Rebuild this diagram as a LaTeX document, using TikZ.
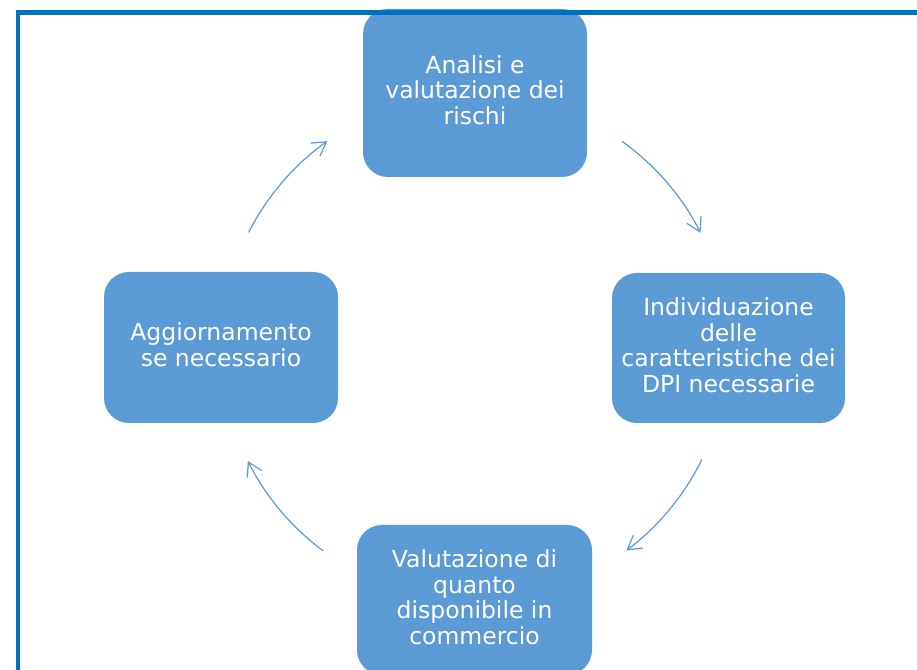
\documentclass[tikz,border=0pt]{standalone}
\usepackage{fontspec}
\setmainfont{DejaVu Sans}
\usetikzlibrary{arrows.meta,calc}
\definecolor{boxblue}{HTML}{5B9BD5}
\definecolor{frameblue}{HTML}{0070C0}
\tikzset{
  stepbox/.style={fill=boxblue, draw=none, rounded corners=25pt, inner sep=0pt,
    text=white, align=center, text depth=6pt, font=\fontsize{23.5}{25.7}\selectfont},
  cyclearrow/.style={draw=boxblue, line width=1.2pt,
    -{Straight Barb[length=13.5pt,width=16pt,line width=1.2pt]}}
}
\begin{document}
\begin{tikzpicture}[x=1pt,y=1pt]
\useasboundingbox (0,0) rectangle (917,669);
\clip (0,0) rectangle (917,669);
\fill[white] (0,0) rectangle (917,669);
% boxes
\node[stepbox, minimum width=224pt, minimum height=168pt] (top) at (475,576)
  {Analisi e\\valutazione dei\\rischi};
\node[stepbox, minimum width=233pt, minimum height=150pt] (right) at (728.5,321)
  {Individuazione\\delle\\caratteristiche dei\\DPI necessarie};
\node[stepbox, minimum width=235pt, minimum height=150pt] (bottom) at (474.5,69)
  {Valutazione di\\quanto\\disponibile in\\commercio};
\node[stepbox, minimum width=234pt, minimum height=151pt] (left) at (221,321.5)
  {Aggiornamento\\se necessario};
% frame
\coordinate (fbl) at (18,-10);
\coordinate (ftl) at (18,656.5);
\coordinate (ftr) at (930,656.5);
\draw[frameblue, line width=4.5pt] (fbl) -- (ftl) -- (ftr);
% cycle arrows
\coordinate (ctr) at (474.5,321.5);
\coordinate (s1) at ($(ctr)+(54.4:253.5)$);
\coordinate (s2) at ($(ctr)+(-26.2:253.5)$);
\coordinate (s3) at ($(ctr)+(-126.6:253.5)$);
\coordinate (s4) at ($(ctr)+(153:253.5)$);
\draw[cyclearrow] (s1) arc[start angle=54.4, end angle=26.9, radius=253.5];
\draw[cyclearrow] (s2) arc[start angle=-26.2, end angle=-53.2, radius=253.5];
\draw[cyclearrow] (s3) arc[start angle=-126.6, end angle=-153.4, radius=253.5];
\draw[cyclearrow] (s4) arc[start angle=153, end angle=125.5, radius=253.5];
\end{tikzpicture}
\end{document}
